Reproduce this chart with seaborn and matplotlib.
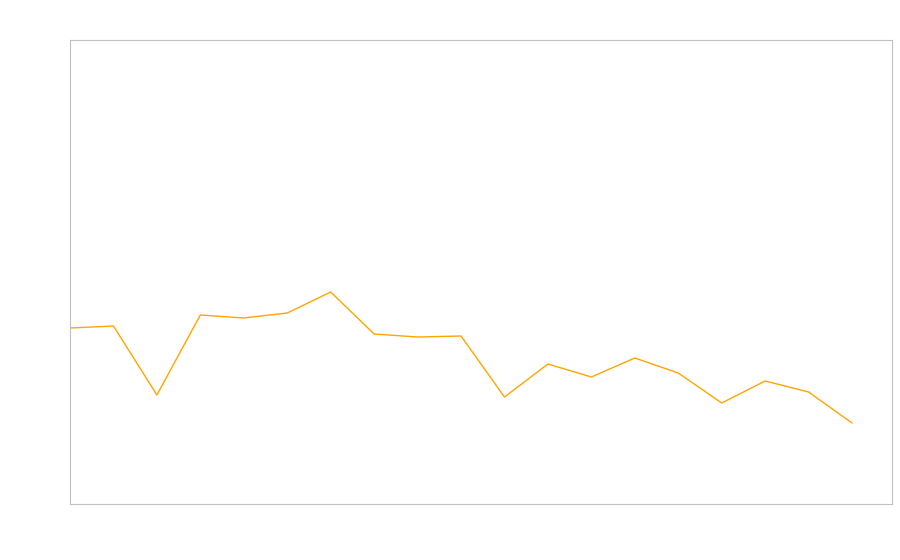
import numpy as np
import pandas as pd
import matplotlib
matplotlib.use("Agg")
import matplotlib.pyplot as plt
import seaborn as sns

# ========================== DATA ==========================
steps = list(range(19))
values = [176, 178, 109, 189, 186, 191, 212, 170, 167, 168,
          107, 140, 127, 146, 131, 101, 123, 112, 81]

df = pd.DataFrame({"step": steps, "value": values})

# ========================== PLOT ==========================
sns.set_style("white")

fig = plt.figure(figsize=(9, 5.6), dpi=100)
ax = fig.add_axes([70 / 900, 56 / 560, 822 / 900, 464 / 560])

sns.lineplot(data=df, x="step", y="value", ax=ax, color="#FFA500", linewidth=1.0)

ax.set_xlim(0, 18.92)
ax.set_ylim(0, 464)
ax.set_xticks([])
ax.set_yticks([])
ax.set_xlabel("")
ax.set_ylabel("")
for spine in ax.spines.values():
    spine.set_color("#c0c0c0")
    spine.set_linewidth(0.8)

fig.savefig("out.png", dpi=100)
plt.close(fig)
